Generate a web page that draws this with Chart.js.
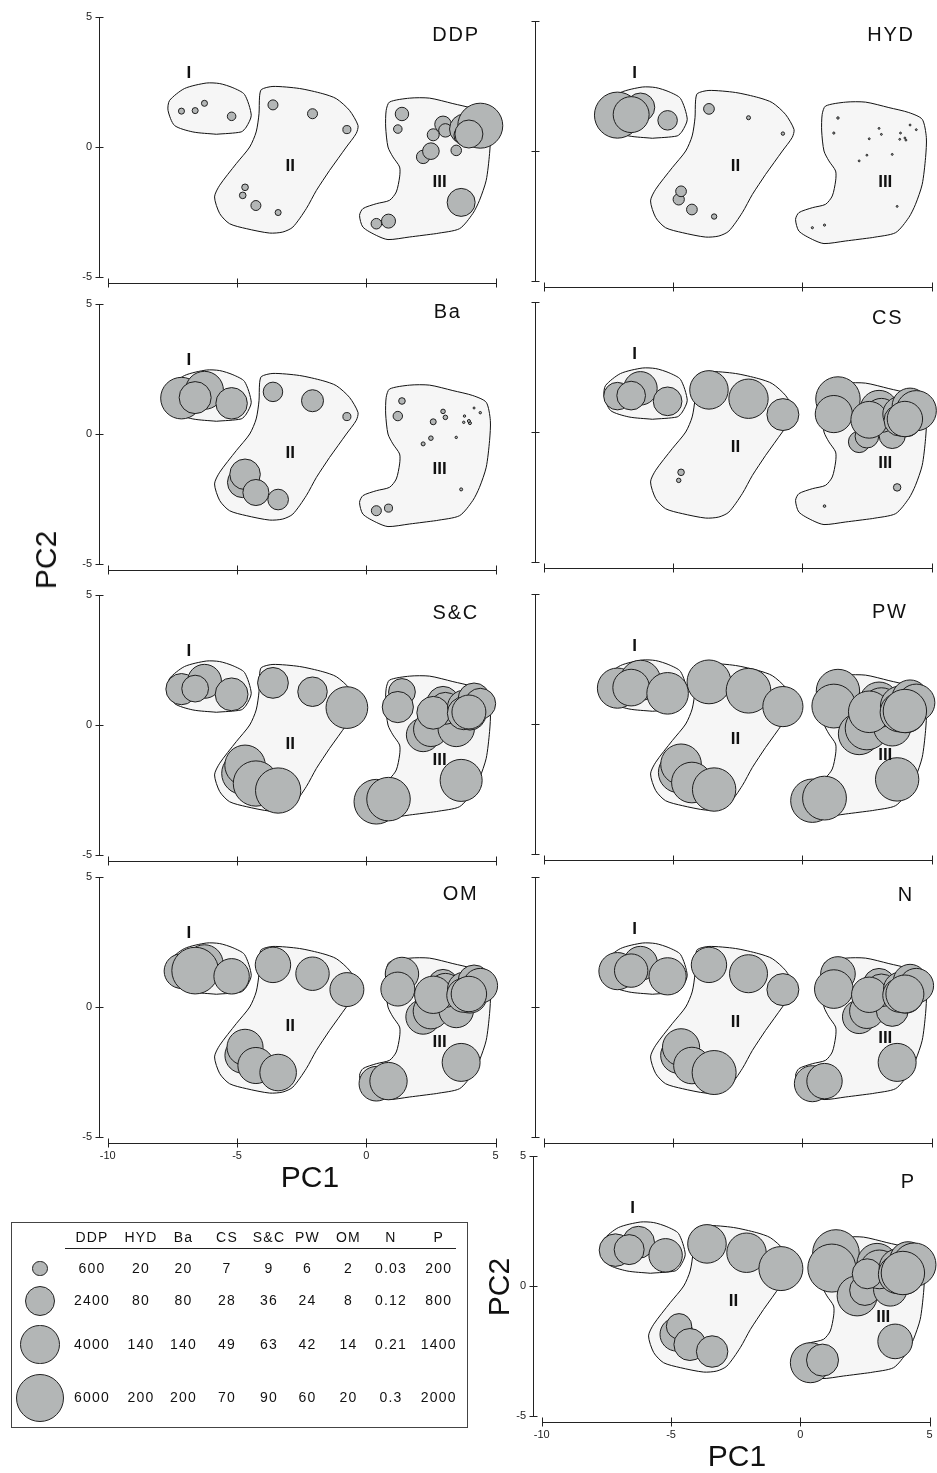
<!DOCTYPE html>
<html>
<head>
<meta charset="utf-8">
<script src="https://cdn.jsdelivr.net/npm/chart.js@4.4.1/dist/chart.umd.min.js"></script>
<style>
body{margin:0;background:#fff;width:937px;height:1473px;position:relative;overflow:hidden;font-family:"Liberation Sans",Arial,sans-serif;color:#111}
canvas{position:absolute}
.ttl{position:absolute;font-size:20px;line-height:20px;letter-spacing:1.8px;white-space:nowrap}
.pc{position:absolute;font-size:30px;line-height:30px;white-space:nowrap;transform:translate(-50%,-50%)}
.pc.rot{transform:translate(-50%,-50%) rotate(-90deg)}
#legend{position:absolute;left:11px;top:1222px;width:457px;height:206px;border:1px solid #444;box-sizing:border-box}
.lt{position:absolute;font-size:14px;line-height:14px;letter-spacing:1.2px;white-space:nowrap;transform:translate(-50%,-50%)}
.dot{position:absolute;border-radius:50%;background:#b3b6b6;border:1px solid #222;box-sizing:border-box}
.rule{position:absolute;height:1px;background:#222}
</style>
</head>
<body>

<script>
// sample scores on the first two principal components
const pc1=[-7.15,-6.26,-6.62,-5.21, -3.61,-2.08,-0.75,-4.78,-4.69,-4.27,-3.41,
0.39,0.86,3.67,1.38,1.22,2.20,2.50,3.48,2.97,3.06,2.59,3.80,4.17,4.01,3.77,4.41,3.97];
const pc2=[1.38,1.68,1.40,1.18, 1.62,1.28,0.67,-1.86,-1.55,-2.25,-2.52,
-2.95,-2.85,-2.13,1.27,0.69,-0.38,-0.16,-0.13,0.87,0.64,0.47,0.69,1.00,0.42,0.45,0.82,0.50];

// variable values per sample (same order as pc1/pc2)
const ddp=[95,95,95,190, 260,260,170,115,115,260,95, 290,510,2040,470,190,470,720,290,720,470,375,2340,1200,600,1000,5270,2040];
const hyd=[184,71,112,33, 10,1.4,1.0,11,10,10,2.5, 0.4,0.4,0.3,0.5,0.4,0.3,0.3,0.3,0.3,0.3,0.3,0.3,0.3,0.3,0.3,0.3,0.3];
const ba=[150,125,89,86, 33,42,5.6,81,81,59,37, 8.7,5.6,0.8,3.8,7.7,1.4,1.8,0.5,1.8,1.8,3.1,0.5,0.35,0.8,0.5,0.5,0.8];
const cs=[23,34,25,25, 45,47,31,0.6,1.3,0,0, 0,0.2,1.7,60,42,14,17,21,44,35,41,38,39,30,30,49,38];
const sc=[38,45,28,42, 37,34,68,69,64,80,80, 78,74,69,28,38,44,47,52,40,40,42,45,40,40,42,37,45];
const pw=[42,42,35,45, 50,52,42,43,43,43,49, 49,50,49,49,50,45,49,36,39,40,45,42,34,40,40,36,49];
const om=[10.4,12,18.9,10.9, 10.9,9.7,10,11,11.3,11.3,11.6, 10.4,12.1,12.5,9.7,10,10.4,10.9,10.4,7.8,10,12.1,10,8.9,10,10,10.4,10.9];
const nn=[0.18,0.15,0.145,0.18, 0.163,0.188,0.133,0.17,0.18,0.174,0.252, 0.169,0.163,0.188,0.156,0.194,0.145,0.156,0.133,0.133,0.14,0.163,0.15,0.145,0.15,0.15,0.156,0.188];
const pp=[920,890,780,970, 1290,1350,1680,970,560,890,860, 1390,890,1040,1885,2000,1390,810,970,1390,1300,780,1300,1160,1300,1300,1635,1635];

// legend table
const legendHeads=['DDP','HYD','Ba','CS','S&C','PW','OM','N','P'];
const legendRows=[
[600,20,20,7,9,6,2,0.03,200],
[2400,80,80,28,36,24,8,0.12,800],
[4000,140,140,49,63,42,14,0.21,1400],
[6000,200,200,70,90,60,20,0.3,2000]];

// group outlines in PC units
const hull1x=[-5.80,-6.71,-7.42,-7.67,-7.61,-7.03,-6.19,-5.67,-5.16,-4.71,-4.45,-4.64,-4.84,-5.80];
const hull1y=[0.49,0.58,0.83,1.41,1.79,2.25,2.46,2.44,2.28,2.02,1.22,0.77,0.58,0.49];
const hull2x=[-1.42,-1.93,-2.32,-2.84,-3.23,-3.74,-4.64,-5.29,-5.67,-5.87,-5.67,-5.03,-4.51,-4.26,-4.15,-4.13,-4.06,-3.61,-2.58,-1.68,-1.16,-0.65,-0.32,-0.39,-0.77,-1.42];
const hull2y=[-0.90,-1.67,-2.37,-3.08,-3.27,-3.31,-3.14,-2.95,-2.56,-1.92,-1.47,-0.64,0.0,0.58,1.28,1.92,2.21,2.33,2.25,2.05,1.86,1.41,0.83,0.52,0.0,-0.90];
const hull3x=[2.71,1.68,0.84,0.39,-0.13,-0.26,-0.13,0.39,0.90,1.16,1.29,1.29,1.03,0.84,0.75,0.77,0.90,1.68,2.45,3.35,4.12,4.64,4.80,4.77,4.64,4.38,4.12,3.61,2.71];
const hull3y=[-3.33,-3.46,-3.56,-3.40,-3.08,-2.63,-2.37,-2.18,-2.05,-1.73,-1.15,-0.77,-0.38,0.0,0.77,1.41,1.73,1.88,1.88,1.67,1.48,1.22,0.52,-0.25,-1.28,-2.05,-2.56,-3.14,-3.33];

const xTicks=[-10,-5,0,5];
const yTicks=[-5,0,5];
const groupNames=['I','II','III'];
const groupX=[[-6.86,-2.94,2.84],[-6.49,-2.58,3.21]];
const groupY=[[2.82,-0.73,-1.37],[2.98,-0.58,-1.22]];

const FONT='"Liberation Sans", Arial, sans-serif';
const BUB='#b3b6b6';
const PAD=28;

function radius(v,vmax){
return 24*Math.sqrt(v/vmax);
}

const frame={
id:'frame',
beforeDatasetsDraw(chart){
let ctx=chart.ctx, x=chart.scales.x, y=chart.scales.y, a=chart.chartArea;
ctx.save();
ctx.strokeStyle='#222';
ctx.lineWidth=1;
ctx.beginPath();
let ax=Math.round(a.left)+0.5;
ctx.moveTo(ax,Math.round(y.getPixelForValue(5))+0.5);
ctx.lineTo(ax,Math.round(y.getPixelForValue(-5))+0.5);
yTicks.forEach(v=>{
let py=Math.round(y.getPixelForValue(v))+0.5;
ctx.moveTo(ax-4,py);ctx.lineTo(ax+4,py);
});
let by=Math.round(a.bottom)+0.5;
ctx.moveTo(Math.round(x.getPixelForValue(-10))+0.5,by);
ctx.lineTo(Math.round(x.getPixelForValue(5))+0.5,by);
xTicks.forEach(v=>{
let px=Math.round(x.getPixelForValue(v))+0.5;
ctx.moveTo(px,by-5);ctx.lineTo(px,by+4);
});
ctx.stroke();
ctx.restore();
},
afterDatasetsDraw(chart,args,opts){
let ctx=chart.ctx, x=chart.scales.x, y=chart.scales.y;
ctx.save();
ctx.fillStyle='#111';
ctx.font='bold 17px '+FONT;
ctx.textAlign='center';
ctx.textBaseline='middle';
groupNames.forEach((g,i)=>{
ctx.fillText(g,x.getPixelForValue(groupX[opts.col][i]),y.getPixelForValue(groupY[opts.col][i]));
});
ctx.restore();
}
};

const panels=[
{name:'DDP',vals:ddp,col:0,ax:99,y5:17,xl:false,yl:true,tx:478,ty:26.7},
{name:'HYD',vals:hyd,col:1,ax:535,y5:21,xl:false,yl:false,tx:913,ty:26.7},
{name:'Ba',vals:ba,col:0,ax:99,y5:304,xl:false,yl:true,tx:460,ty:303.3},
{name:'CS',vals:cs,col:1,ax:535,y5:302,xl:false,yl:false,tx:901.7,ty:310},
{name:'S&C',vals:sc,col:0,ax:99,y5:595,xl:false,yl:true,tx:477.3,ty:605},
{name:'PW',vals:pw,col:1,ax:535,y5:594,xl:false,yl:false,tx:906,ty:603.3},
{name:'OM',vals:om,col:0,ax:99,y5:877,xl:true,yl:true,tx:476.7,ty:886},
{name:'N',vals:nn,col:1,ax:535,y5:877,xl:false,yl:false,tx:912.3,ty:886.7},
{name:'P',vals:pp,col:1,ax:533,y5:1156,xl:true,yl:true,tx:914,ty:1173.3}
];

function hull(hx,hy){
return {
type:'line',
data:hx.map((x,i)=>({x:x,y:hy[i]})),
fill:'shape',
backgroundColor:'#f6f6f6',
borderColor:'#111',
borderWidth:1,
pointRadius:0,
tension:0.25,
clip:false,
order:1
};
}

panels.forEach(p=>{

let cv=document.createElement('canvas');
let xh=p.xl?22:0;
cv.width=40+411+PAD;
cv.height=PAD+266+xh+PAD;
cv.style.left=(p.ax-40)+'px';
cv.style.top=(p.y5-PAD)+'px';
document.body.appendChild(cv);

let vmax=legendRows[3][legendHeads.indexOf(p.name)];

new Chart(cv,{
type:'bubble',
data:{
datasets:[
{
data:pc1.map((x,i)=>({x:x,y:pc2[i],r:radius(p.vals[i],vmax)})),
backgroundColor:BUB,
borderColor:'#1e1e1e',
borderWidth:1,
hoverRadius:0,
clip:false,
order:0
},
hull(hull1x,hull1y),
hull(hull2x,hull2y),
hull(hull3x,hull3y)
]
},
options:{
responsive:false,
animation:false,
devicePixelRatio:1,
events:[],
layout:{padding:{left:10,right:PAD,top:PAD,bottom:PAD}},
plugins:{legend:{display:false},tooltip:{enabled:false},frame:{col:p.col}},
scales:{
x:{
type:'linear',min:-10.34,max:5.56,
afterBuildTicks:s=>{s.ticks=xTicks.map(v=>({value:v}));},
afterFit:s=>{s.height=xh;},
grid:{display:false,drawTicks:false},
border:{display:false},
ticks:{display:p.xl,padding:6,color:'#222',font:{size:11,family:FONT}}
},
y:{
type:'linear',min:-5.23,max:5,
afterBuildTicks:s=>{s.ticks=yTicks.map(v=>({value:v}));},
afterFit:s=>{s.width=30;},
grid:{display:false,drawTicks:false},
border:{display:false},
ticks:{display:p.yl,padding:7,color:'#222',font:{size:11,family:FONT}}
}
}
},
plugins:[frame]
});

let t=document.createElement('div');
t.className='ttl';
t.textContent=p.name;
t.style.right=(937-p.tx-1.8)+'px';
t.style.top=(p.ty-2.6)+'px';
document.body.appendChild(t);

});

// axis titles
[['PC1',310,1177,false],['PC1',737,1456,false],['PC2',46,560,true],['PC2',499,1287,true]].forEach(a=>{
let d=document.createElement('div');
d.className=a[3]?'pc rot':'pc';
d.textContent=a[0];
d.style.left=a[1]+'px';
d.style.top=a[2]+'px';
document.body.appendChild(d);
});

// size legend
let colX=[92,141,183.5,227,269,307.5,348.5,391,438.7];
let rowY=[1267.5,1300,1343.5,1396.5];

function addText(txt,x,y){
let d=document.createElement('div');
d.className='lt';
d.textContent=txt;
d.style.left=x+'px';
d.style.top=y+'px';
document.body.appendChild(d);
}

let box=document.createElement('div');
box.id='legend';
document.body.appendChild(box);

let rule=document.createElement('div');
rule.className='rule';
rule.style.left='65px';rule.style.top='1248px';rule.style.width='391px';
document.body.appendChild(rule);

legendHeads.forEach((h,j)=>addText(h,colX[j],1237));

legendRows.forEach((row,i)=>{
let r=radius(row[0],legendRows[3][0]);
let c=document.createElement('div');
c.className='dot';
c.style.width=(2*r)+'px';c.style.height=(2*r)+'px';
c.style.left=(40-r)+'px';c.style.top=(rowY[i]+1-r)+'px';
document.body.appendChild(c);
row.forEach((v,j)=>addText(String(v),colX[j],rowY[i]));
});

</script>
</body>
</html>
